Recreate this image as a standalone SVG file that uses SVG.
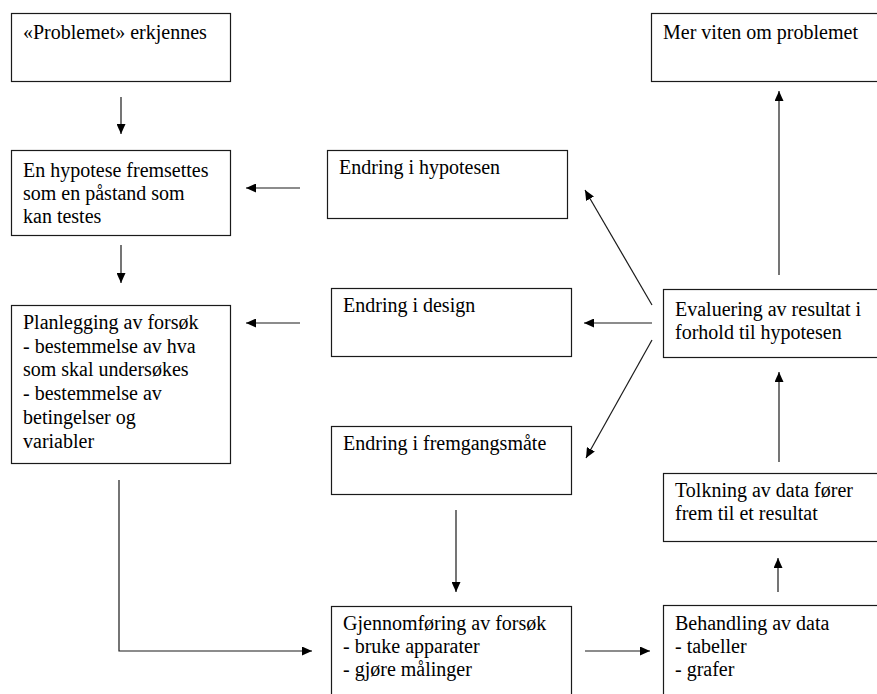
<svg xmlns="http://www.w3.org/2000/svg" width="877" height="694" viewBox="0 0 877 694">
<defs>
<marker id="ah" markerUnits="userSpaceOnUse" markerWidth="11" markerHeight="9" refX="10" refY="4.5" orient="auto">
<path d="M0,0 L10,4.5 L0,9 Z" fill="#000"/>
</marker>
<style>
.box{fill:#fff;stroke:#1a1a1a;stroke-width:1.2}
.c{fill:none;stroke:#1a1a1a;stroke-width:1.2;marker-end:url(#ah)}
</style>
</defs>
<rect width="877" height="694" fill="#fff"/>
<g id="problem">
<rect class="box" x="11.5" y="13.5" width="219" height="68"/>
<text font-family="Times New Roman, Liberation Serif, Tinos, serif" font-size="20" x="23" y="39">«Problemet» erkjennes</text>
</g>
<g id="hypotese">
<rect class="box" x="11.5" y="150.5" width="219" height="85"/>
<text font-family="Times New Roman, Liberation Serif, Tinos, serif" font-size="20" x="23" y="177">En hypotese fremsettes</text>
<text font-family="Times New Roman, Liberation Serif, Tinos, serif" font-size="20" x="23" y="200">som en påstand som</text>
<text font-family="Times New Roman, Liberation Serif, Tinos, serif" font-size="20" x="23" y="223">kan testes</text>
</g>
<g id="planlegging">
<rect class="box" x="11.5" y="305.5" width="219" height="158"/>
<text font-family="Times New Roman, Liberation Serif, Tinos, serif" font-size="20" x="23" y="329">Planlegging av forsøk</text>
<text font-family="Times New Roman, Liberation Serif, Tinos, serif" font-size="20" x="23" y="352.7">- bestemmelse av hva</text>
<text font-family="Times New Roman, Liberation Serif, Tinos, serif" font-size="20" x="23" y="376.4">som skal undersøkes</text>
<text font-family="Times New Roman, Liberation Serif, Tinos, serif" font-size="20" x="23" y="400">- bestemmelse av</text>
<text font-family="Times New Roman, Liberation Serif, Tinos, serif" font-size="20" x="23" y="423.8">betingelser og</text>
<text font-family="Times New Roman, Liberation Serif, Tinos, serif" font-size="20" x="23" y="447.5">variabler</text>
</g>
<g id="endring-hypotesen">
<rect class="box" x="327.5" y="150.5" width="240" height="68"/>
<text font-family="Times New Roman, Liberation Serif, Tinos, serif" font-size="20" x="339" y="174">Endring i hypotesen</text>
</g>
<g id="endring-design">
<rect class="box" x="331.5" y="288.5" width="240" height="68"/>
<text font-family="Times New Roman, Liberation Serif, Tinos, serif" font-size="20" x="343" y="312">Endring i design</text>
</g>
<g id="endring-fremgangsmate">
<rect class="box" x="331.5" y="426.5" width="240" height="68"/>
<text font-family="Times New Roman, Liberation Serif, Tinos, serif" font-size="20" x="343" y="450">Endring i fremgangsmåte</text>
</g>
<g id="gjennomforing">
<rect class="box" x="331.5" y="606.5" width="240" height="100"/>
<text font-family="Times New Roman, Liberation Serif, Tinos, serif" font-size="20" x="343" y="630">Gjennomføring av forsøk</text>
<text font-family="Times New Roman, Liberation Serif, Tinos, serif" font-size="20" x="343" y="653">- bruke apparater</text>
<text font-family="Times New Roman, Liberation Serif, Tinos, serif" font-size="20" x="343" y="676">- gjøre målinger</text>
</g>
<g id="behandling">
<rect class="box" x="663.5" y="605.5" width="240" height="100"/>
<text font-family="Times New Roman, Liberation Serif, Tinos, serif" font-size="20" x="675" y="630">Behandling av data</text>
<text font-family="Times New Roman, Liberation Serif, Tinos, serif" font-size="20" x="675" y="653">- tabeller</text>
<text font-family="Times New Roman, Liberation Serif, Tinos, serif" font-size="20" x="675" y="676">- grafer</text>
</g>
<g id="tolkning">
<rect class="box" x="663.5" y="473.5" width="240" height="68"/>
<text font-family="Times New Roman, Liberation Serif, Tinos, serif" font-size="20" x="675" y="497">Tolkning av data fører</text>
<text font-family="Times New Roman, Liberation Serif, Tinos, serif" font-size="20" x="675" y="520">frem til et resultat</text>
</g>
<g id="evaluering">
<rect class="box" x="663.5" y="289.5" width="240" height="68"/>
<text font-family="Times New Roman, Liberation Serif, Tinos, serif" font-size="20" x="675" y="316">Evaluering av resultat i</text>
<text font-family="Times New Roman, Liberation Serif, Tinos, serif" font-size="20" x="675" y="339">forhold til hypotesen</text>
</g>
<g id="mer-viten">
<rect class="box" x="651.5" y="13.5" width="240" height="68"/>
<text font-family="Times New Roman, Liberation Serif, Tinos, serif" font-size="20" x="663" y="39">Mer viten om problemet</text>
</g>
<g id="connectors">
<line class="c" x1="121" y1="97" x2="121" y2="134"/>
<line class="c" x1="121" y1="245" x2="121" y2="283"/>
<line class="c" x1="300" y1="188" x2="246" y2="188"/>
<line class="c" x1="300" y1="323" x2="246" y2="323"/>
<polyline class="c" points="119,480 119,651 312,651"/>
<line class="c" x1="456" y1="510" x2="456" y2="592"/>
<line class="c" x1="585" y1="651" x2="650" y2="651"/>
<line class="c" x1="778" y1="592" x2="778" y2="558"/>
<line class="c" x1="779" y1="462" x2="779" y2="372"/>
<line class="c" x1="779" y1="275" x2="779" y2="91"/>
<line class="c" x1="652" y1="305" x2="585" y2="190"/>
<line class="c" x1="652" y1="323" x2="584" y2="323"/>
<line class="c" x1="652" y1="340" x2="586" y2="458"/>
</g>
</svg>
